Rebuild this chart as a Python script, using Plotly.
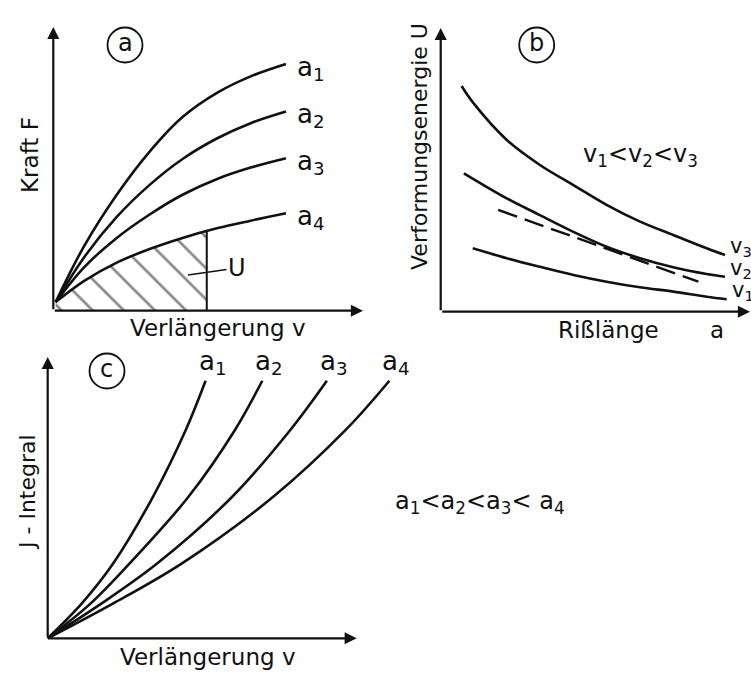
import numpy as np
import plotly.graph_objects as go

W, H = 751, 675
FONT = "DejaVu Sans"

# ---------------- data ----------------
# Panel a: Kraft F over Verlängerung v for crack lengths a1..a4
V_A = [0.1, 1.3, 2.7, 4.1, 5.5, 7.0, 8.4, 9.9]
F_A1 = [0.35, 2.6, 4.7, 6.45, 7.85, 8.85, 9.5, 10.0]
F_A2 = [0.35, 2.15, 3.8, 5.1, 6.15, 7.0, 7.6, 8.07]
F_A3 = [0.35, 1.75, 2.95, 3.9, 4.7, 5.35, 5.8, 6.18]
F_A4 = [0.35, 1.2, 1.95, 2.5, 2.95, 3.35, 3.65, 3.95]
V_CUT = 6.53  # elongation up to which U is hatched
LABELS_A = ["a<sub>1</sub>", "a<sub>2</sub>", "a<sub>3</sub>", "a<sub>4</sub>"]

# Panel b: Verformungsenergie U over Rißlänge a for v1..v3
A_V3 = [0.73, 1.14, 2.31, 3.47, 4.64, 5.80, 6.97, 8.13, 9.30, 9.94]
U_V3 = [10.0, 9.25, 7.61, 6.50, 5.61, 4.73, 3.99, 3.40, 2.81, 2.51]
A_V2 = [0.81, 2.31, 3.47, 4.64, 5.80, 6.97, 8.13, 9.30, 9.94]
U_V2 = [6.13, 5.02, 4.28, 3.54, 2.88, 2.37, 1.97, 1.67, 1.55]
A_V1 = [1.12, 2.31, 3.47, 4.64, 5.80, 6.97, 8.13, 9.30, 10.0]
U_V1 = [2.81, 2.37, 1.99, 1.63, 1.33, 1.08, 0.89, 0.66, 0.55]
A_TAN = [2.01, 5.5, 9.01]
U_TAN = [4.51, 2.93, 1.33]
LABELS_B = ["v<sub>3</sub>", "v<sub>2</sub>", "v<sub>1</sub>"]

# Panel c: J-Integral over Verlängerung v for a1..a4
J_C = [0, 1.37, 2.94, 5.55, 8.17, 10.1]
V_C1 = [0, 1.0, 1.92, 3.08, 4.04, 4.62]
V_C2 = [0, 1.26, 2.40, 4.12, 5.48, 6.28]
V_C3 = [0, 1.58, 3.21, 5.40, 7.10, 8.17]
V_C4 = [0, 1.92, 3.93, 6.60, 8.72, 10.0]

# ---------------- layout helpers ----------------
def P(px, py):
    return px / W, 1 - py / H

def axes(px0, px1, py0, py1, ox, oy, sx, sy):
    xd = [px0 / W, px1 / W]
    yd = [1 - py1 / H, 1 - py0 / H]
    xr = [(px0 - ox) / sx, (px1 - ox) / sx]
    yr = [(oy - py1) / sy, (oy - py0) / sy]
    return xd, yd, xr, yr

PANELS = {
    "a": dict(box=(0, 370, 0, 345), o=(53.3, 310.7), s=(23.5, 24.67)),
    "b": dict(box=(380, 751, 0, 345), o=(440.7, 311.7), s=(28.6, 22.57)),
    "c": dict(box=(0, 420, 345, 675), o=(47.7, 638.3), s=(34.17, 25.5)),
}
AX = {"a": ("x", "y"), "b": ("x2", "y2"), "c": ("x3", "y3")}

fig = go.Figure()
LW = 2.6
BLACK = "#111111"

def line(xs, ys, panel, dash="solid", width=LW):
    xa, ya = AX[panel]
    fig.add_trace(go.Scatter(x=xs, y=ys, mode="lines", xaxis=xa, yaxis=ya,
                             line=dict(color=BLACK, width=width, dash=dash,
                                       shape="spline", smoothing=1.0),
                             showlegend=False, hoverinfo="skip"))

# hatched area U under a4 up to V_CUT
f_cut = float(np.interp(V_CUT, V_A, F_A4))
hx = [v for v in V_A if v < V_CUT] + [V_CUT]
hy = [f for v, f in zip(V_A, F_A4) if v < V_CUT] + [f_cut]
fig.add_trace(go.Scatter(x=hx, y=hy, mode="lines", fill="tozeroy",
                         line=dict(width=0, shape="spline"),
                         fillcolor="rgba(0,0,0,0)",
                         fillpattern=dict(shape="\\", fgcolor=BLACK, bgcolor="white",
                                          size=22, solidity=0.12),
                         showlegend=False, hoverinfo="skip"))
line([V_CUT, V_CUT], [0, f_cut], "a", width=2)

for F in (F_A1, F_A2, F_A3, F_A4):
    line(V_A, F, "a")

for A, U in ((A_V3, U_V3), (A_V2, U_V2), (A_V1, U_V1)):
    line(A, U, "b")
line(A_TAN, U_TAN, "b", dash="20px,8px", width=2.4)

for Vc in (V_C1, V_C2, V_C3, V_C4):
    line(Vc, J_C, "c")

layout_axes = {}
for key, (name_x, name_y) in zip("abc", [("xaxis", "yaxis"), ("xaxis2", "yaxis2"), ("xaxis3", "yaxis3")]):
    p = PANELS[key]
    xd, yd, xr, yr = axes(*p["box"], *p["o"], *p["s"])
    xa, ya = AX[key]
    layout_axes[name_x] = dict(domain=xd, range=xr, visible=False, anchor=ya, fixedrange=True)
    layout_axes[name_y] = dict(domain=yd, range=yr, visible=False, anchor=xa, fixedrange=True)

ann = []
shapes = []

def to_data(panel, px, py):
    p = PANELS[panel]
    return (px - p["o"][0]) / p["s"][0], (p["o"][1] - py) / p["s"][1]

# axis arrows
for panel, ytip_py, xtip_px in (("a", 27, 363), ("b", 28, 750), ("c", 357, 356.7)):
    xa, ya = AX[panel]
    _, ytip = to_data(panel, 0, ytip_py)
    xtip, _ = to_data(panel, xtip_px, 0)
    for (x, y) in ((0, ytip), (xtip, 0)):
        ann.append(dict(x=x, y=y, ax=0, ay=0, xref=xa, yref=ya, axref=xa, ayref=ya,
                        text="", showarrow=True, arrowhead=2, arrowsize=1.1,
                        arrowwidth=2.2, arrowcolor=BLACK, standoff=0, startstandoff=0))

def text(px, py, s, size=23, angle=0, xanchor="center", yanchor="middle"):
    x, y = P(px, py)
    ann.append(dict(x=x, y=y, xref="paper", yref="paper", text=s, showarrow=False,
                    textangle=angle, xanchor=xanchor, yanchor=yanchor,
                    font=dict(family=FONT, size=size, color=BLACK)))

# axis titles
text(30, 155, "Kraft F", angle=-90)
text(218, 328, "Verlängerung v")
text(420, 147, "Verformungsenergie U", size=22, angle=-90)
text(608, 330, "Rißlänge")
text(717, 330, "a")
text(27, 492, "J - Integral", size=22, angle=-90)
text(208, 657, "Verlängerung v")
text(480, 502, "a<sub>1</sub>&lt;a<sub>2</sub>&lt;a<sub>3</sub>&lt; a<sub>4</sub>", size=24)
text(640, 155, "v<sub>1</sub>&lt;v<sub>2</sub>&lt;v<sub>3</sub>", size=24)

# circled panel letters
for (cx, cy, letter) in ((125, 45, "a"), (536.7, 45, "b"), (107, 371, "c")):
    x, y = P(cx, cy)
    shapes.append(dict(type="circle", xref="paper", yref="paper", xsizemode="pixel",
                       ysizemode="pixel", xanchor=x, yanchor=y, x0=-17.5, x1=17.5,
                       y0=-17.5, y1=17.5, line=dict(color=BLACK, width=1.8)))
    text(cx, cy - 2, letter, size=24)

# curve labels panel a
for F, lab in zip((F_A1, F_A2, F_A3, F_A4), LABELS_A):
    ann.append(dict(x=V_A[-1], y=F[-1], xref="x", yref="y", text=lab, showarrow=False,
                    xanchor="left", yanchor="middle", xshift=9, yshift=-4,
                    font=dict(family=FONT, size=26, color=BLACK)))

# curve labels panel b (cut at the right edge as in the original)
for A, U, lab in zip((A_V3, A_V2, A_V1), (U_V3, U_V2, U_V1), LABELS_B):
    ann.append(dict(x=A[-1], y=U[-1], xref="x2", yref="y2", text=lab, showarrow=False,
                    xanchor="left", yanchor="middle", xshift=3, yshift=8,
                    font=dict(family=FONT, size=21, color=BLACK)))

# curve labels panel c
for Vc, lab in zip((V_C1, V_C2, V_C3, V_C4), LABELS_A):
    ann.append(dict(x=Vc[-1], y=J_C[-1], xref="x3", yref="y3", text=lab, showarrow=False,
                    xanchor="left", yanchor="bottom", xshift=-9, yshift=0,
                    font=dict(family=FONT, size=26, color=BLACK)))

# U label with leader line
ux, uy = to_data("a", 188, 275)
tx, ty = to_data("a", 237, 268)
ann.append(dict(x=ux, y=uy, ax=tx, ay=ty, xref="x", yref="y", axref="x", ayref="y",
                text="U", showarrow=True, arrowhead=0, arrowwidth=1.6, arrowcolor=BLACK,
                font=dict(family=FONT, size=24, color=BLACK)))

fig.update_layout(width=W, height=H, margin=dict(l=0, r=0, t=0, b=0),
                  paper_bgcolor="white", plot_bgcolor="rgba(0,0,0,0)",
                  annotations=ann, shapes=shapes, **layout_axes)

fig.write_html("out.html", config=dict(displayModeBar=False),
               post_script="document.body.style.margin='0';document.body.style.overflow='hidden';")
